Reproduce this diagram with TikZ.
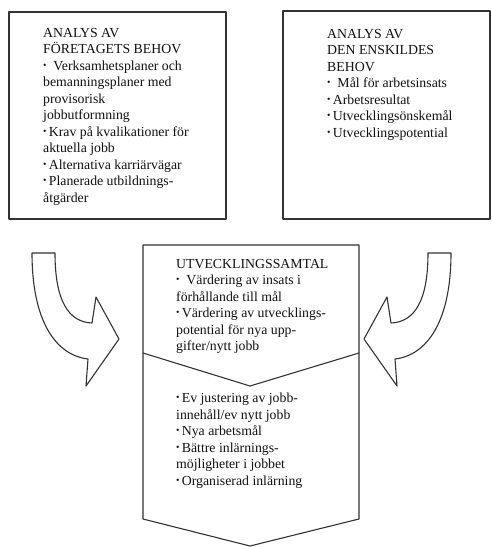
\documentclass[tikz,border=0pt]{standalone}
\usepackage{fontspec}
\setmainfont{Liberation Serif}
\definecolor{edge}{HTML}{333333}
\definecolor{ink}{HTML}{111111}
\newcommand{\pkt}{\raisebox{0.14em}{\scalebox{0.7}{\textbullet}}}

\begin{document}
\begin{tikzpicture}[x=1pt,y=-1pt,line cap=round,line join=round]
  \useasboundingbox (0,0) rectangle (491,547);
  \tikzset{
    box/.style={draw=edge,line width=1.1pt,fill=white},
    txt/.style={anchor=north west,inner sep=0pt,align=left,text=ink,
      font=\fontsize{13.8}{16.5}\selectfont}
  }

  % Two analysis boxes on top.
  \draw[box] (9,12) rectangle (226,219);
  \draw[box] (283,11) rectangle (490,219);
  \node[txt] (foretag) at (43,28) {ANALYS AV\\
    FÖRETAGETS BEHOV\\
    \pkt\ \ Verksamhetsplaner och\\
    bemanningsplaner med\\
    provisorisk\\
    jobbutformning\\
    \pkt\,Krav på kvalikationer för\\
    aktuella jobb\\
    \pkt\,Alternativa karriärvägar\\
    \pkt\,Planerade utbildnings-\\
    åtgärder};
  \node[txt] (individ) at (327,29) {ANALYS AV\\
    DEN ENSKILDES\\
    BEHOV\\
    \pkt\ \ Mål för arbetsinsats\\
    \pkt\,Arbetsresultat\\
    \pkt\,Utvecklingsönskemål\\
    \pkt\,Utvecklingspotential};

  % Curved block arrow, mirrored for the right side.
  \newcommand{\bagpil}[1]{%
    \begin{scope}[#1]
      \draw[box] (32,253) -- (55,253)
        .. controls (55,300) and (68,322) .. (92,323)
        -- (96,297) -- (119,339) -- (86,386) -- (88,359)
        .. controls (55,355) and (32,320) .. (32,253) -- cycle;
    \end{scope}}
  \bagpil{}
  \bagpil{shift={(483,0)},xscale=-1}

  % Central chevron with the talk and its outcome.
  \draw[box] (143,245) -- (359,245) -- (359,519) -- (250,546)
    -- (143,519) -- cycle;
  \draw[box] (143,353) -- (250,386) -- (359,353);
  \node[txt] (samtal) at (176,259) {UTVECKLINGSSAMTAL\\
    \pkt\ \ Värdering av insats i\\
    förhållande till mål\\
    \pkt\,Värdering av utvecklings-\\
    potential för nya upp-\\
    gifter/nytt jobb};
  \node[txt] (atgard) at (176,393) {\pkt\,Ev justering av jobb-\\
    innehåll/ev nytt jobb\\
    \pkt\,Nya arbetsmål\\
    \pkt\,Bättre inlärnings-\\
    möjligheter i jobbet\\
    \pkt\,Organiserad inlärning};
\end{tikzpicture}
\end{document}
